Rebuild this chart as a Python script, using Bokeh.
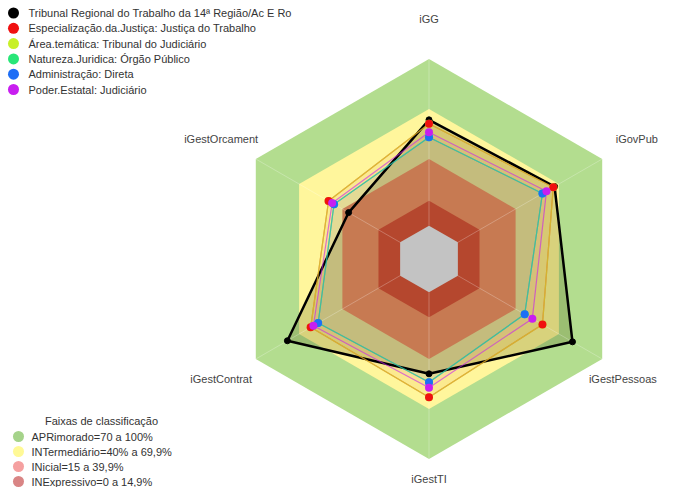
import numpy as np
from bokeh.plotting import figure
from bokeh.models import Range1d
from bokeh.core.properties import value
from bokeh.embed import file_html
from bokeh.resources import INLINE

# ---------------- data ----------------
axis_labels = ["iGG", "iGovPub", "iGestPessoas", "iGestTI", "iGestContrat", "iGestOrcament"]

series_names = [
    "Tribunal Regional do Trabalho da 14ª Região/Ac E Ro",
    "Especialização.da.Justiça: Justiça do Trabalho",
    "Área.temática: Tribunal do Judiciário",
    "Natureza.Juridica: Órgão Público",
    "Administração: Direta",
    "Poder.Estatal: Judiciário",
]
tribunal = [63.5, 67.0, 79.4, 48.9, 78.1, 35.7]
especializacao = [61.1, 66.1, 58.6, 62.9, 62.0, 49.6]
area_tematica = [61.1, 66.1, 58.6, 62.9, 62.0, 49.6]
natureza = [53.1, 58.6, 46.3, 53.9, 56.8, 45.8]
administracao = [53.1, 58.6, 46.3, 53.9, 56.8, 45.8]
poder_estatal = [56.1, 61.4, 51.6, 57.3, 60.1, 47.1]

band_title = "Faixas de classificação"
band_names = ["APRimorado=70 a 100%", "INTermediário=40% a 69,9%", "INicial=15 a 39,9%", "INExpressivo=0 a 14,9%"]
band_levels = [100, 70, 40, 15, 0]
scale_min, scale_max = -20, 100

# ---------------- styles ----------------
series_colors = ["#000000", "#f01010", "#c8f028", "#28e678", "#1e6ef5", "#c81ef0"]
series_fill = ["#3a4800", "#f01010", "#c8f028", "#28e678", "#1e6ef5", "#c81ef0"]
band_fill = ["#b3dd8f", "#fff69c", "#c77a52", "#b5472e", "#c3c3c3"]
band_legend_colors = ["#a5d38a", "#fff996", "#f5a0a0", "#d98585"]
FONT = value("Liberation Sans")

W, H = 661, 487
S = 200.0                 # px per unit radius
CX, CY = 428.5, 258.5     # centre in canvas px

p = figure(width=W, height=H, output_backend="svg", toolbar_location=None,
           x_axis_type=None, y_axis_type=None, min_border=0,
           x_range=Range1d(-CX / S, (W - CX) / S),
           y_range=Range1d(-(H - CY) / S, CY / S))
p.grid.visible = False
p.outline_line_color = None
p.background_fill_color = "white"

angles = np.deg2rad([90, 30, -30, -90, -150, 150])


def radial(v):
    return (np.asarray(v, dtype=float) - scale_min) / (scale_max - scale_min)


def polar(vals):
    r = radial(vals)
    return r * np.cos(angles), r * np.sin(angles)


def px(cx, cy):
    # canvas pixel -> data coordinates (layout of legend text only)
    return (cx - CX) / S, (CY - cy) / S


# outer bands (green, yellow)
for lvl, col in zip(band_levels[:2], band_fill[:2]):
    xs, ys = polar([lvl] * 6)
    p.patch(list(xs), list(ys), fill_color=col, line_color=None)

all_series = [tribunal, especializacao, area_tematica, natureza, administracao, poder_estatal]

# series fills
for i, vals in enumerate(all_series):
    xs, ys = polar(vals)
    p.patch(list(xs), list(ys), fill_color=series_fill[i],
            fill_alpha=0.2 if i == 0 else 0.05, line_color=None)

# inner bands
for lvl, col in zip(band_levels[2:], band_fill[2:]):
    xs, ys = polar([lvl] * 6)
    p.patch(list(xs), list(ys), fill_color=col, line_color=None)

# spokes
xo, yo = polar([band_levels[0]] * 6)
xi, yi = polar([band_levels[-1]] * 6)
p.segment(x0=list(xi), y0=list(yi), x1=list(xo), y1=list(yo),
          line_color="white", line_alpha=0.25, line_width=1)

# lines
xs, ys = polar(tribunal)
p.patch(list(xs), list(ys), fill_alpha=0, line_color="black", line_width=2.5)
draw_order = [1, 2, 4, 3, 5]
for i in draw_order:
    xs, ys = polar(all_series[i])
    p.patch(list(xs), list(ys), fill_alpha=0, line_color=series_colors[i],
            line_width=1.2, line_alpha=0.6)

# markers
xs, ys = polar(tribunal)
p.scatter(list(xs), list(ys), size=6, color="black")
for i in [2, 1, 3, 4, 5]:
    xs, ys = polar(all_series[i])
    p.scatter(list(xs), list(ys), size=8, color=series_colors[i], line_color=None)

# axis labels
lab_r = np.array([1.2, 1.2, 1.2, 1.1, 1.2, 1.2])
lab_shift_px = np.array([0, 0, -14, 0, 0, 0])
lx = lab_r * np.cos(angles) + lab_shift_px / S
ly = lab_r * np.sin(angles)
p.text(x=list(lx), y=list(ly), text=axis_labels, text_font=FONT,
       text_font_size="11px", text_color="#444444",
       text_align="center", text_baseline="middle")

# top-left legend
leg_x, leg_y0, leg_dy = 13, 12.5, 15.3
lpos = [px(leg_x, leg_y0 + k * leg_dy) for k in range(len(series_names))]
p.scatter([q[0] for q in lpos], [q[1] for q in lpos], size=11,
          color=series_colors, line_color=None)
tpos = [px(leg_x + 15, leg_y0 + k * leg_dy) for k in range(len(series_names))]
p.text(x=[q[0] for q in tpos], y=[q[1] for q in tpos], text=series_names,
       text_font=FONT, text_font_size="11px", text_color="#333333",
       text_align="left", text_baseline="middle")

# bottom-left band legend
tx, ty = px(101, 420)
p.text(x=[tx], y=[ty], text=[band_title], text_font=FONT, text_font_size="11px",
       text_color="#333333", text_align="center", text_baseline="middle")
b_y0 = 436
bpos = [px(leg_x + 5, b_y0 + k * 15) for k in range(len(band_names))]
p.scatter([q[0] for q in bpos], [q[1] for q in bpos], size=11,
          color=band_legend_colors, line_color=None)
btpos = [px(leg_x + 18, b_y0 + k * 15) for k in range(len(band_names))]
p.text(x=[q[0] for q in btpos], y=[q[1] for q in btpos], text=band_names,
       text_font=FONT, text_font_size="11px", text_color="#333333",
       text_align="left", text_baseline="middle")

open("out.html", "w").write(file_html(p, INLINE))
